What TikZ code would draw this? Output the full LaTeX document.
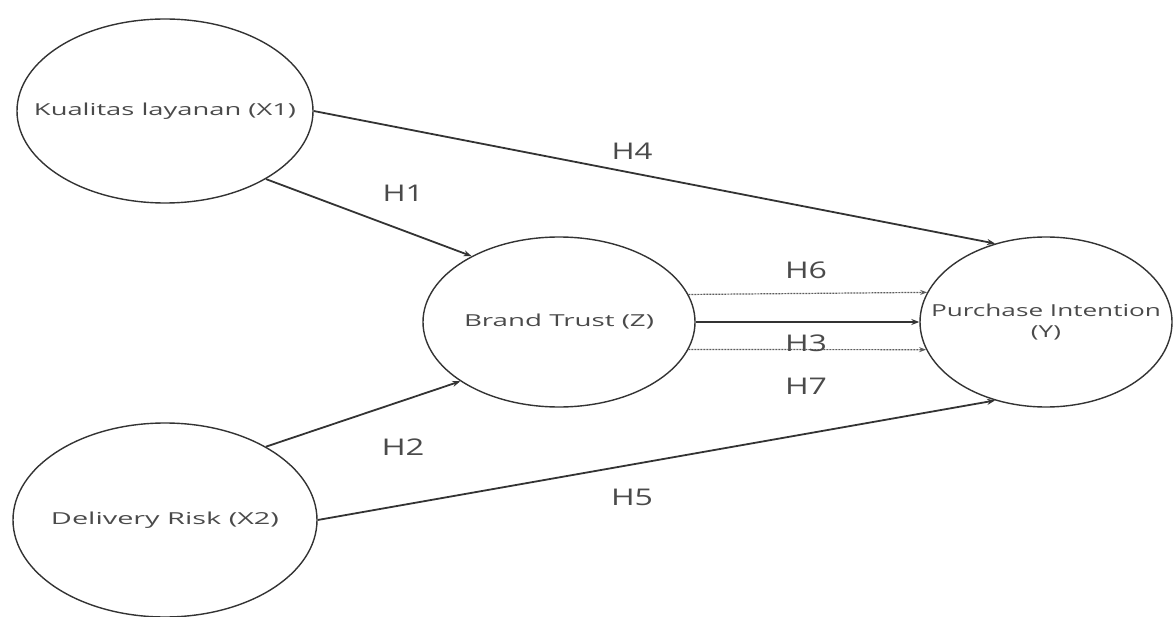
\documentclass[tikz,border=0pt]{standalone}
\usepackage{fontspec}
\usepackage{graphicx}
\setmainfont{Open Sans}
\usetikzlibrary{arrows.meta,shapes.geometric}
\definecolor{txt}{HTML}{4A4A4A}
\definecolor{ln}{HTML}{333333}
\tikzset{
  construct/.style={ellipse,draw=ln,line width=1.4pt,inner sep=0pt},
  ctext/.style={text=txt,font=\fontsize{16.5}{21}\selectfont,align=center,inner sep=0pt},
  path/.style={draw=ln,line width=1.8pt,-{Stealth[length=8pt,width=6pt]}},
  mediated/.style={draw=ln!80,line width=1.2pt,dash pattern=on 2pt off 1pt,-{Stealth[length=7pt,width=5pt]}},
  hlabel/.style={text=txt,font=\fontsize{23}{26}\selectfont,inner sep=0pt}
}
\begin{document}
\begin{tikzpicture}[x=1pt,y=-1pt]
\useasboundingbox (0,0) rectangle (1174,617);
\node[construct,minimum width=296pt,minimum height=184pt,label={[ctext]center:\resizebox{262pt}{\height}{Kualitas layanan (X1)}}] (X1) at (165,111) {};
\node[construct,minimum width=304pt,minimum height=194pt,label={[ctext]center:\resizebox{228pt}{\height}{Delivery Risk (X2)}}] (X2) at (165,520) {};
\node[construct,minimum width=272pt,minimum height=170pt,label={[ctext]center:\resizebox{190pt}{\height}{Brand Trust (Z)}}] (Z) at (559,322) {};
\node[construct,minimum width=252pt,minimum height=170pt,label={[ctext]center:\resizebox{230pt}{\height}{Purchase Intention}\\\scalebox{1.58}[1]{(Y)}}] (Y) at (1046,322) {};
\draw[path] (X1.0) -- (Y.123);
\draw[path] (X1.-34) -- (Z.143);
\draw[path] (X2.36) -- (Z.211);
\draw[path] (X2.0) -- (Y.237);
\draw[path] (Z.east) -- (Y.west);
\draw[mediated] (Z.12.8) -- (Y.166.2);
\draw[mediated] (Z.-12.8) -- (Y.193.8);
\node[hlabel] (h4) at (632,151) {\resizebox{41pt}{\height}{H4}};
\node[hlabel] (h1) at (403,193) {\resizebox{41pt}{\height}{H1}};
\node[hlabel] (h6) at (806,270) {\resizebox{42pt}{\height}{H6}};
\node[hlabel] (h3) at (806,343) {\resizebox{42pt}{\height}{H3}};
\node[hlabel] (h7) at (806,386) {\resizebox{42pt}{\height}{H7}};
\node[hlabel] (h2) at (403,447) {\resizebox{43pt}{\height}{H2}};
\node[hlabel] (h5) at (632,497) {\resizebox{42pt}{\height}{H5}};
\end{tikzpicture}
\end{document}
